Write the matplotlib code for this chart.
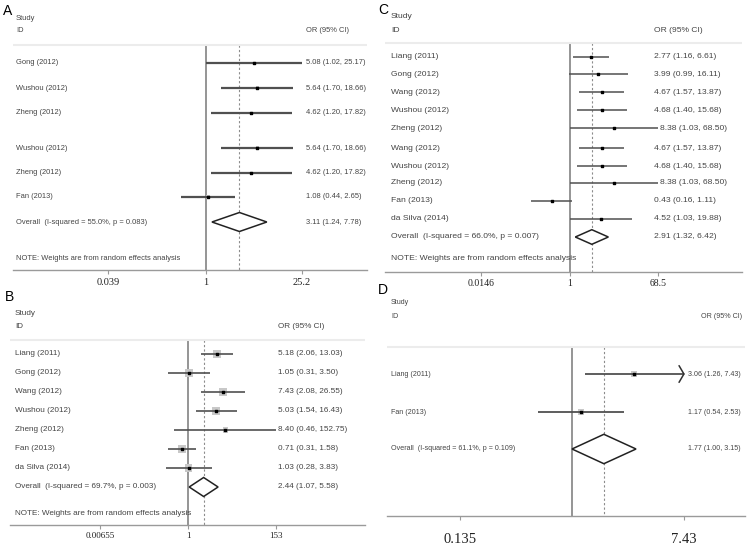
import matplotlib.pyplot as plt
import matplotlib.transforms as mtransforms
import numpy as np

W, H = 750, 545

# ---- data ----
a_labels = ["Gong (2012)", "Wushou (2012)", "Zheng (2012)", "Wushou (2012)", "Zheng (2012)", "Fan (2013)"]
a_or = [5.08, 5.64, 4.62, 5.64, 4.62, 1.08]
a_lo = [1.02, 1.70, 1.20, 1.70, 1.20, 0.44]
a_hi = [25.17, 18.66, 17.82, 18.66, 17.82, 2.65]
a_wt = [12, 20, 18, 20, 18, 24]
a_overall = [3.11, 1.24, 7.78]
a_het = ["55.0%", "0.083"]
a_ticks = [0.039, 1, 25.2]
a_ticklabels = ["0.039", "1", "25.2"]

b_labels = ["Liang (2011)", "Gong (2012)", "Wang (2012)", "Wushou (2012)", "Zheng (2012)", "Fan (2013)", "da Silva (2014)"]
b_or = [5.18, 1.05, 7.43, 5.03, 8.40, 0.71, 1.03]
b_lo = [2.06, 0.31, 2.08, 1.54, 0.46, 0.31, 0.28]
b_hi = [13.03, 3.50, 26.55, 16.43, 152.75, 1.58, 3.83]
b_wt = [17, 14, 15, 15, 7, 18, 13]
b_overall = [2.44, 1.07, 5.58]
b_het = ["69.7%", "0.003"]
b_ticks = [0.00655, 1, 153]
b_ticklabels = ["0.00655", "1", "153"]

c_labels = ["Liang (2011)", "Gong (2012)", "Wang (2012)", "Wushou (2012)", "Zheng (2012)",
            "Wang (2012)", "Wushou (2012)", "Zheng (2012)", "Fan (2013)", "da Silva (2014)"]
c_or = [2.77, 3.99, 4.67, 4.68, 8.38, 4.67, 4.68, 8.38, 0.43, 4.52]
c_lo = [1.16, 0.99, 1.57, 1.40, 1.03, 1.57, 1.40, 1.03, 0.16, 1.03]
c_hi = [6.61, 16.11, 13.87, 15.68, 68.50, 13.87, 15.68, 68.50, 1.11, 19.88]
c_wt = [11, 9, 10, 10, 7, 10, 10, 7, 10, 8]
c_overall = [2.91, 1.32, 6.42]
c_het = ["66.0%", "0.007"]
c_ticks = [0.0146, 1, 68.5]
c_ticklabels = ["0.0146", "1", "68.5"]

d_labels = ["Liang (2011)", "Fan (2013)"]
d_or = [3.06, 1.17]
d_lo = [1.26, 0.54]
d_hi = [7.43, 2.53]
d_wt = [45, 55]
d_overall = [1.77, 1.00, 3.15]
d_het = ["61.1%", "0.109"]
d_ticks = [0.135, 7.43]
d_ticklabels = ["0.135", "7.43"]

# ---- layout (pixels in a 750x545 canvas) ----
panels = [
    dict(letter="A", labels=a_labels, est=a_or, lo=a_lo, hi=a_hi, wt=a_wt, ov=a_overall, het=a_het,
         ticks=a_ticks, ticklabels=a_ticklabels,
         x0=13, x1=367, top=0, axis=270, null=205.5, scale=29.9,
         rows=[63, 88, 113, 148, 173, 197], ovy=222, study=18, idy=31, sep=45, note=259,
         lab_x=16, or_x=306, hdr_x=306, fs=5.4, tfs=7.5, tpad=3, dh=9.5, lw=1.6, letter_xy=(3, 11),
         boxscale=0.25, arrow=[False] * 6),
    dict(letter="B", labels=b_labels, est=b_or, lo=b_lo, hi=b_hi, wt=b_wt, ov=b_overall, het=b_het,
         ticks=b_ticks, ticklabels=b_ticklabels,
         x0=10, x1=365, top=288, axis=525, null=188, scale=17.5,
         rows=[354, 373, 392, 411, 430, 449, 468], ovy=487, study=314, idy=327, sep=340, note=514,
         lab_x=15, or_x=278, hdr_x=278, fs=5.9, tfs=6.5, tpad=2, dh=9.5, lw=1.2, letter_xy=(5, 297),
         boxscale=2.0, arrow=[False] * 7),
    dict(letter="C", labels=c_labels, est=c_or, lo=c_lo, hi=c_hi, wt=c_wt, ov=c_overall, het=c_het,
         ticks=c_ticks, ticklabels=c_ticklabels,
         x0=385, x1=742, top=0, axis=272, null=569.5, scale=20.9,
         rows=[57, 74, 92, 110, 128, 148, 166, 183, 201, 219], ovy=237, study=17, idy=30, sep=43, note=258,
         lab_x=391, or_x=654, hdr_x=654, fs=6.1, tfs=7.0, tpad=2, dh=7.3, lw=1.1, letter_xy=(378, 10),
         boxscale=0.3, arrow=[False] * 10),
    dict(letter="D", labels=d_labels, est=d_or, lo=d_lo, hi=d_hi, wt=d_wt, ov=d_overall, het=d_het,
         ticks=d_ticks, ticklabels=d_ticklabels,
         x0=387, x1=745, top=288, axis=516, null=572, scale=55.8,
         rows=[374, 412], ovy=449, study=302, idy=317, sep=347, note=None,
         lab_x=391, or_x=688, hdr_x=742, fs=5.1, tfs=10.5, tpad=9, dh=14.7, lw=1.3, letter_xy=(378, 290),
         boxscale=0.4, arrow=[True, False]),
]

plt.rcParams['font.family'] = ['Liberation Sans', 'DejaVu Sans']
fig = plt.figure(figsize=(W / 100, H / 100), dpi=100)
txt = "#444444"

for p in panels:
    x0, x1 = p["x0"], p["x1"]
    ax = fig.add_axes([x0 / W, 1 - p["axis"] / H, (x1 - x0) / W, (p["axis"] - p["top"]) / H])
    ax.set_xscale("log")
    ax.set_xlim(np.exp((x0 - p["null"]) / p["scale"]), np.exp((x1 - p["null"]) / p["scale"]))
    ax.set_ylim(p["axis"], p["top"])
    for s in ["top", "left", "right"]:
        ax.spines[s].set_visible(False)
    ax.spines["bottom"].set_color("#9a9a9a")
    ax.spines["bottom"].set_linewidth(1.0)
    ax.set_yticks([])
    ax.xaxis.set_minor_locator(plt.NullLocator())
    ax.set_xticks(p["ticks"])
    ax.set_xticklabels(p["ticklabels"], family=["Liberation Serif"], fontsize=p["tfs"], color="#222222")
    ax.tick_params(axis="x", length=3, width=0.8, color="#9a9a9a", pad=p["tpad"])
    ax.patch.set_alpha(0)

    tr = mtransforms.blended_transform_factory(ax.transAxes, ax.transData)
    fx = lambda px: (px - x0) / (x1 - x0)
    # pixel position of a value on the log axis (used only to keep text clear of long CIs)
    to_px = lambda v: p["null"] + p["scale"] * np.log(v)

    # header
    ax.text(fx(p["lab_x"]), p["study"], "Study", transform=tr, fontsize=p["fs"], color=txt, va="center")
    ax.text(fx(p["lab_x"]), p["idy"], "ID", transform=tr, fontsize=p["fs"], color=txt, va="center")
    ha_h = "right" if p["hdr_x"] != p["or_x"] else "left"
    ax.text(fx(p["hdr_x"]), p["idy"], "OR (95% CI)", transform=tr, fontsize=p["fs"], color=txt,
            va="center", ha=ha_h)
    ax.axhline(p["sep"], color="#ececec", lw=1.5)

    # reference lines
    ax.plot([1, 1], [p["sep"], p["axis"]], color="#8c8c8c", lw=1.3, zorder=1)
    ax.plot([p["ov"][0]] * 2, [p["sep"], p["axis"]], color="#8c8c8c", lw=0.8,
            ls=(0, (2, 2)), zorder=1)

    # studies
    xmax_tick = max(p["ticks"])
    for i, lab in enumerate(p["labels"]):
        y = p["rows"][i]
        e, lo, hi = p["est"][i], p["lo"][i], p["hi"][i]
        hi_draw = min(hi, xmax_tick) if p["arrow"][i] else hi
        ax.text(fx(p["lab_x"]), y, lab, transform=tr, fontsize=p["fs"], color=txt, va="center")
        tx = max(p["or_x"], to_px(hi_draw) + 2)
        ax.text(fx(tx), y, "%.2f (%.2f, %.2f)" % (e, lo, hi), transform=tr,
                fontsize=p["fs"], color=txt, va="center")
        ax.scatter([e], [y], marker="s", s=p["wt"][i] * p["boxscale"], color="#c8c8c8",
                   edgecolors="none", zorder=2)
        ax.hlines(y, lo, hi_draw, color="#505050", lw=p["lw"], zorder=3)
        ax.scatter([e], [y], marker="s", s=4, color="black", zorder=4)
        if p["arrow"][i]:
            for dy in (6, -6):
                ax.annotate("", xy=(hi_draw, y), xytext=(-3.5, dy), textcoords="offset points",
                            arrowprops=dict(arrowstyle="-", lw=1.1, color="#303030",
                                            shrinkA=0, shrinkB=0))

    # overall diamond
    est, lo, hi = p["ov"]
    yo, dh = p["ovy"], p["dh"]
    ax.fill([lo, est, hi, est, lo], [yo, yo - dh, yo, yo + dh, yo], facecolor="white",
            edgecolor="#222222", lw=1.1, zorder=3)
    ax.text(fx(p["lab_x"]), yo, "Overall  (I-squared = %s, p = %s)" % tuple(p["het"]),
            transform=tr, fontsize=p["fs"], color=txt, va="center")
    ax.text(fx(p["or_x"]), yo, "%.2f (%.2f, %.2f)" % (est, lo, hi), transform=tr,
            fontsize=p["fs"], color=txt, va="center")
    if p["note"] is not None:
        ax.text(fx(p["lab_x"]), p["note"], "NOTE: Weights are from random effects analysis",
                transform=tr, fontsize=p["fs"], color=txt, va="center")

    fig.text(p["letter_xy"][0] / W, 1 - p["letter_xy"][1] / H, p["letter"], fontsize=10,
             color="black", va="center", ha="left")

fig.savefig("out.png", dpi=100)
